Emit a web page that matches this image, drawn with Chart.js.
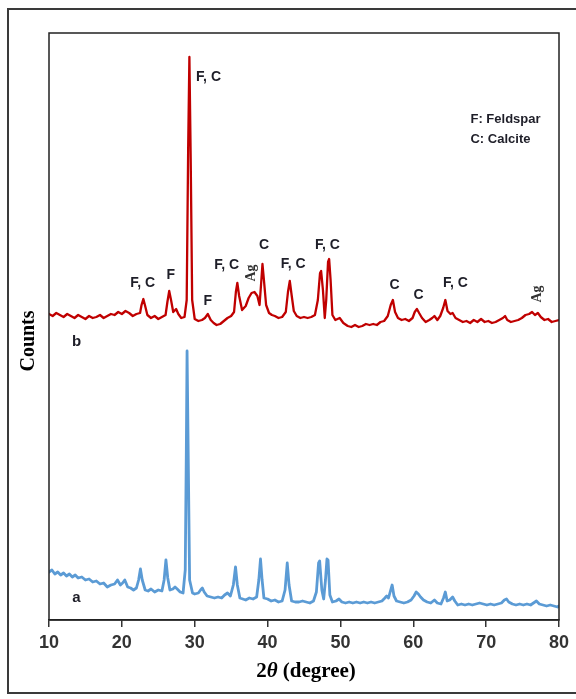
<!DOCTYPE html>
<html>
<head>
<meta charset="utf-8">
<script src="https://cdn.jsdelivr.net/npm/chart.js@4.4.1/dist/chart.umd.min.js"></script>
<style>
  html, body { margin:0; padding:0; background:#fff; }
  #wrap { position:relative; width:576px; height:699px; overflow:hidden; }
  #frame { position:absolute; left:7px; top:8px; width:620px; height:686px; border:2px solid #3a3a3a; box-sizing:border-box; }
  canvas { position:absolute; left:0; top:0; }
</style>
</head>
<body>
<div id="wrap">
  <div id="frame"></div>
  <canvas id="c" width="576" height="699"></canvas>
</div>
<script>
// ---- Data (2θ in degrees, counts in arbitrary units) ----
const degB = [10.0,10.5,11.0,11.5,12.0,12.5,13.0,13.5,14.0,14.5,15.0,15.5,16.0,16.5,17.0,17.5,18.0,18.5,19.0,19.5,20.0,20.5,21.0,21.5,22.0,22.5,22.7,22.95,23.2,23.5,24.0,24.5,25.0,25.5,26.0,26.25,26.5,26.75,27.05,27.45,27.75,28.15,28.6,28.9,29.1,29.27,29.45,29.65,30.0,30.5,31.0,31.4,31.8,32.2,32.6,33.0,33.5,34.0,34.5,35.0,35.4,35.65,35.85,36.1,36.5,37.0,37.4,37.8,38.2,38.6,38.9,39.1,39.3,39.5,39.8,40.2,40.6,41.0,41.5,42.0,42.5,42.8,43.05,43.3,43.6,44.0,44.5,45.0,45.5,46.0,46.5,46.9,47.2,47.35,47.6,47.85,48.05,48.3,48.45,48.65,48.9,49.3,49.9,50.4,51.0,51.5,52.0,52.5,53.0,53.5,54.0,54.5,55.0,55.5,56.0,56.5,56.9,57.2,57.5,57.9,58.4,58.9,59.4,59.9,60.2,60.5,60.8,61.2,61.7,62.2,62.6,62.9,63.3,63.7,64.1,64.4,64.7,65.1,65.4,65.8,66.3,66.8,67.3,67.8,68.3,68.8,69.3,69.8,70.3,70.8,71.3,71.8,72.3,72.6,72.9,73.4,73.9,74.4,74.9,75.4,75.9,76.3,76.7,77.1,77.5,78.0,78.5,79.0,79.5,80.0];
const countsB = [317,315,318,316,314,317,315,313,316,314,312,315,313,314,316,313,315,317,316,319,317,320,318,315,317,318,326,332,325,316,313,315,312,314,316,329,340,331,319,322,317,313,314,331,481,574,471,331,312,310,311,313,317,311,308,306,307,310,313,315,319,339,348,335,321,325,333,338,339,335,326,346,367,351,326,318,316,315,313,314,319,339,350,336,320,315,313,314,313,314,316,331,358,360,341,313,331,369,372,351,316,311,313,308,305,304,306,304,305,307,306,307,306,309,310,315,326,331,319,313,311,312,310,313,319,322,318,313,309,311,313,315,311,315,323,331,320,317,318,313,311,309,310,308,311,309,312,309,310,308,309,311,313,315,311,309,310,311,313,316,317,319,316,318,314,311,312,309,310,311];

const degA = [10.0,10.4,10.8,11.2,11.6,12.0,12.4,12.8,13.2,13.6,14.0,14.5,15.0,15.5,16.0,16.5,17.0,17.5,18.0,18.5,19.0,19.4,19.8,20.1,20.4,20.8,21.2,21.6,22.0,22.3,22.55,22.8,23.2,23.6,24.0,24.5,25.0,25.5,25.8,26.05,26.3,26.6,27.0,27.3,27.6,28.0,28.4,28.7,28.85,28.95,29.1,29.3,29.7,30.0,30.5,30.8,31.05,31.3,31.7,32.2,32.7,33.2,33.7,34.1,34.5,34.9,35.3,35.6,35.85,36.2,36.6,37.0,37.5,38.0,38.5,38.8,39.03,39.25,39.5,40.0,40.5,41.0,41.5,42.0,42.4,42.7,42.95,43.3,43.8,44.3,44.8,45.3,45.8,46.3,46.7,47.0,47.15,47.45,47.7,47.95,48.15,48.3,48.55,48.9,49.4,49.8,50.2,50.7,51.2,51.7,52.2,52.7,53.2,53.7,54.2,54.7,55.2,55.7,56.1,56.35,56.6,56.9,57.1,57.35,57.7,58.2,58.7,59.2,59.7,60.1,60.4,60.7,61.0,61.4,61.9,62.4,62.9,63.3,63.8,64.15,64.4,64.65,65.0,65.4,65.7,66.1,66.6,67.1,67.6,68.1,68.6,69.1,69.6,70.1,70.6,71.1,71.6,72.1,72.5,72.8,73.1,73.6,74.1,74.6,75.1,75.6,76.1,76.5,76.9,77.3,77.8,78.3,78.8,79.3,79.8,80.0];
const countsA = [59,61,57,59,56,58,55,57,54,56,53,54,51,52,49,50,47,48,44,46,47,51,46,48,51,44,43,41,43,51,62,51,41,40,42,39,41,40,51,71,53,41,42,44,42,39,38,61,181,280,181,51,38,37,38,41,43,39,35,34,33,34,33,36,38,35,46,64,46,33,32,31,33,32,34,51,72,51,33,32,30,31,29,30,41,68,46,30,29,29,30,29,28,30,39,68,70,41,32,51,72,71,36,29,30,32,29,28,29,28,29,28,29,28,29,28,29,30,33,35,33,41,46,35,30,29,28,29,31,35,39,37,34,31,29,28,31,28,27,33,39,30,31,34,30,26,27,26,27,26,27,28,27,26,27,26,27,28,31,32,29,27,26,27,26,27,26,28,30,27,26,25,26,25,24,25];

const xTicks = [10,20,30,40,50,60,70,80];

// peak annotations: text, 2θ anchor, count anchor
const peakText = ["F, C","F, C","F","F","F, C","Ag","C","F, C","F, C","C","C","F, C","Ag"];
const peakDeg  = [31.9, 22.86, 26.7, 31.78, 34.39, 37.77, 39.51, 43.53, 48.23, 57.44, 60.74, 65.79, 77.05];
const peakCnt  = [554, 348, 356, 330, 366, 358, 386, 367, 386, 346, 336, 348, 337];
const seriesNames = ["b","a"];
const seriesNameDeg = [13.8, 13.75];
const seriesNameCnt = [289, 33];
const keyLines = ["F: Feldspar","C: Calcite"];
const keyDeg = 67.85;
const keyCnt = [512, 492];

const toPts = (xs, ys) => xs.map((x,i)=>({x:x, y:ys[i]}));

const annotPlugin = {
  id:'annot',
  afterDraw(chart){
    const ctx = chart.ctx, xs = chart.scales.x, ys = chart.scales.y, a = chart.chartArea;
    ctx.save();
    ctx.strokeStyle = '#222'; ctx.lineWidth = 1.5;
    ctx.strokeRect(a.left, a.top, a.right-a.left, a.bottom-a.top);
    ctx.fillStyle = '#1e1e28';
    ctx.textAlign = 'center'; ctx.textBaseline = 'middle';
    peakText.forEach((t,i)=>{
      const px = xs.getPixelForValue(peakDeg[i]), py = ys.getPixelForValue(peakCnt[i]);
      if (t === 'Ag') {
        ctx.save();
        ctx.translate(px, py); ctx.rotate(-Math.PI/2);
        ctx.font = 'bold 14px "Liberation Serif", serif';
        ctx.fillStyle = '#333';
        ctx.fillText(t, 0, 0);
        ctx.restore();
      } else {
        ctx.font = 'bold 14px "Liberation Sans", Arial, sans-serif';
        ctx.fillText(t, px, py);
      }
    });
    ctx.font = 'bold 15px "Liberation Sans", Arial, sans-serif';
    seriesNames.forEach((t,i)=>{
      ctx.fillText(t, xs.getPixelForValue(seriesNameDeg[i]), ys.getPixelForValue(seriesNameCnt[i]));
    });
    ctx.textAlign = 'left';
    ctx.font = 'bold 13px "Liberation Sans", Arial, sans-serif';
    keyLines.forEach((t,i)=>{
      ctx.fillText(t, xs.getPixelForValue(keyDeg), ys.getPixelForValue(keyCnt[i]));
    });
    ctx.save();
    ctx.translate(29, 341); ctx.rotate(-Math.PI/2);
    ctx.textAlign = 'center';
    ctx.fillStyle = '#000';
    ctx.font = 'bold 20px "Liberation Serif", serif';
    ctx.fillText('Counts', 0, 0);
    ctx.restore();
    const parts = [['2','bold 21px "Liberation Serif", serif'],['θ','bold italic 21px "Liberation Serif", serif'],[' (degree)','bold 21px "Liberation Serif", serif']];
    let w = 0;
    parts.forEach(p=>{ ctx.font = p[1]; w += ctx.measureText(p[0]).width; });
    let x0 = (a.left + a.right)/2 + 2 - w/2;
    ctx.fillStyle = '#000'; ctx.textAlign = 'left';
    parts.forEach(p=>{ ctx.font = p[1]; ctx.fillText(p[0], x0, 672); x0 += ctx.measureText(p[0]).width; });
    ctx.restore();
  }
};

new Chart(document.getElementById('c'), {
  type:'line',
  data:{
    datasets:[
      { label:'b', data: toPts(degB, countsB), borderColor:'#c00000', borderWidth:2.3, borderJoinStyle:'round', borderCapStyle:'round', pointRadius:0, tension:0, fill:false },
      { label:'a', data: toPts(degA, countsA), borderColor:'#5b9bd5', borderWidth:2.8, borderJoinStyle:'round', borderCapStyle:'round', pointRadius:0, tension:0, fill:false }
    ]
  },
  options:{
    responsive:false, animation:false,
    layout:{ padding:{ left:49, right:17, top:33, bottom:0 } },
    plugins:{ legend:{display:false}, tooltip:{enabled:false} },
    scales:{
      x:{ type:'linear', min:10, max:80,
          afterBuildTicks(s){ s.ticks = xTicks.map(v=>({value:v})); },
          afterFit(s){ s.height = 79; },
          grid:{ display:true, drawOnChartArea:false, drawTicks:true, tickLength:7, color:'#333', lineWidth:1.5 },
          border:{ display:true, color:'#222', width:1.5 },
          ticks:{ padding:5, color:'#333', font:{ size:18, weight:'bold', family:'"Liberation Sans", Arial, sans-serif' }, maxRotation:0, autoSkip:false }
      },
      y:{ display:false, min:11, max:598 }
    }
  },
  plugins:[annotPlugin]
});
</script>
</body>
</html>
